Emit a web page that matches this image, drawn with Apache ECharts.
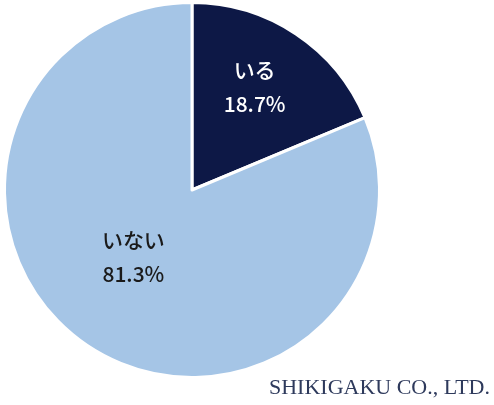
<!DOCTYPE html>
<html>
<head>
<meta charset="utf-8">
<script src="https://cdn.jsdelivr.net/npm/echarts@6/dist/echarts.min.js"></script>
<style>
html,body{margin:0;padding:0;background:#fff;}
#chart{width:494px;height:405px;}
</style>
</head>
<body>
<div id="chart"></div>
<script>
const categories = ['いる', 'いない'];
const values = [18.7, 81.3];
const sliceColors = ['#0d1846', '#a5c5e6'];
const labelColors = ['#ffffff', '#1a1a1a'];
const labelOffsets = [[9, -22], [-5, -14]];
const credit = 'SHIKIGAKU CO., LTD.';

const chart = echarts.init(document.getElementById('chart'));
chart.setOption({
  backgroundColor: '#ffffff',
  animation: false,
  series: [{
    type: 'pie',
    center: [192, 190],
    radius: 187.5,
    startAngle: 90,
    clockwise: true,
    avoidLabelOverlap: false,
    itemStyle: { borderColor: '#ffffff', borderWidth: 3 },
    label: {
      show: true,
      position: 'inside',
      formatter: p => p.name + '\n' + p.value.toFixed(1) + '%',
      fontFamily: '"Noto Sans CJK JP", "Noto Sans", sans-serif',
      fontSize: 21,
      fontWeight: 500,
      lineHeight: 34
    },
    labelLine: { show: false },
    emphasis: { disabled: true },
    data: categories.map((c, i) => ({
      name: c,
      value: values[i],
      itemStyle: { color: sliceColors[i] },
      label: { color: labelColors[i], offset: labelOffsets[i] }
    }))
  }],
  graphic: [{
    type: 'text',
    right: 4,
    top: 377,
    style: {
      text: credit,
      font: '22px "Liberation Serif", "DejaVu Serif", serif',
      fill: '#2e3a5c'
    }
  }]
});
</script>
</body>
</html>
